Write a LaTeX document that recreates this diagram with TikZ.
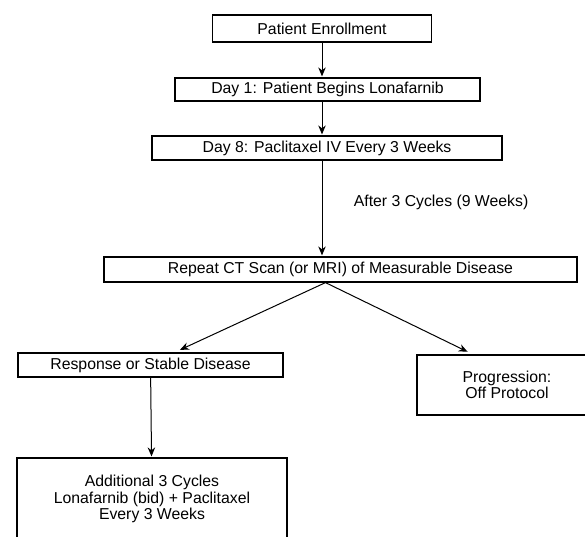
\documentclass[tikz,border=0pt]{standalone}
\usepackage{fontspec}
\setmainfont{Liberation Sans}
\usetikzlibrary{arrows.meta}

\begin{document}
\begin{tikzpicture}[
            x = 1pt, y = -1pt, % pixel units, y grows downwards
            > = {Stealth[length=9pt, width=7.5pt]}, % arrow head style
            shorten > = 1pt, % don't touch arrow head to node
            line width = 1pt, % line style
            font = \fontsize{15.8}{16.4}\selectfont
        ]

        \tikzstyle{box}=[
            draw = black,
            line width = 1.2pt,
            fill = white,
            inner sep = 0pt,
            minimum height = 24pt,
            align = center
        ]

        \useasboundingbox (0,0) rectangle (585,536);
        \clip (0,0) rectangle (585,536);

        \node[box, minimum width = 219pt, minimum height = 27pt] (enroll) at (322,28.5) {Patient Enrollment};
        \node[box, minimum width = 305pt, minimum height = 23pt] (day1) at (327.5,89.5) {Day 1: Patient Begins Lonafarnib};
        \node[box, minimum width = 350pt] (day8) at (327,148) {Day 8: Paclitaxel IV Every 3 Weeks};
        \node[box, minimum width = 473pt, minimum height = 25pt] (ctscan) at (340.5,269.5) {Repeat CT Scan (or MRI) of Measurable Disease};
        \node[box, minimum width = 265pt] (response) at (150.5,365) {Response or Stable Disease};
        \node[box, minimum width = 180pt, minimum height = 60pt] (progress) at (507,385) {Progression:\\Off Protocol};
        \node[box, minimum width = 270pt, minimum height = 82pt] (additional) at (152,499) {Additional 3 Cycles\\Lonafarnib (bid) + Paclitaxel\\Every 3 Weeks};

        \draw[->] (enroll) -- (enroll |- day1.north);
        \draw[->] (day1.south -| enroll) -- (day8.north -| enroll);
        \draw[->] (day8.south -| enroll) -- node[right = 28pt, pos = 0.44] (cycles) {After 3 Cycles (9 Weeks)} (ctscan.north -| enroll);
        \draw[->, shorten > = 6pt] ([xshift = -15pt]ctscan.south) -- ([xshift = 24pt]response.north);
        \draw[->, shorten > = 6pt] ([xshift = -15pt]ctscan.south) -- ([xshift = -34pt]progress.north);
        \draw[->] (response) -- (additional);
    \end{tikzpicture}
\end{document}
